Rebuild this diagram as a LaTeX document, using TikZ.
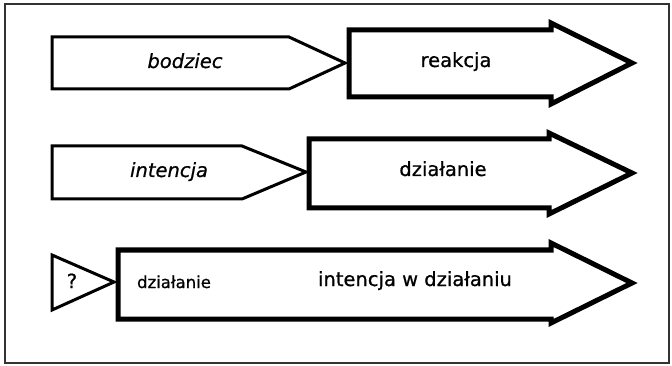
\documentclass[tikz,border=0pt]{standalone}
\usepackage{fontspec}
\setmainfont[FakeBold=0.8]{DejaVu Sans}
\begin{document}
\begin{tikzpicture}[x=1pt,y=-1pt,
  frame/.style={line width=1.3pt, draw=black!80},
  inbox/.style={line width=3pt, line join=miter},
  outarrow/.style={line width=5pt, line join=miter},
  lab/.style={anchor=base, inner sep=0pt, font=\fontsize{19.5}{21}\selectfont},
  ilab/.style={lab, font=\fontsize{19.5}{21}\selectfont\itshape},
  slab/.style={anchor=base, inner sep=0pt, font=\fontsize{16.5}{18}\selectfont}]
\useasboundingbox (0,0) rectangle (672,366);
\draw[frame] (5,4) rectangle (669,363);
% row 1
\draw[inbox] (52,37) -- (289,37) -- (345,63) -- (289,89) -- (52,89) -- cycle;
\draw[outarrow] (349,30) -- (551,30) -- (551,23) -- (632,63) -- (551,104) -- (551,97) -- (349,97) -- cycle;
\node[ilab] (bodziec) at (185,68) {bodziec};
\node[lab] (reakcja) at (456,67) {reakcja};
% row 2
\draw[inbox] (52,146) -- (242,146) -- (306,172) -- (242,199) -- (52,199) -- cycle;
\draw[outarrow] (309,139) -- (549,139) -- (549,133) -- (632,173) -- (549,214) -- (549,208) -- (309,208) -- cycle;
\node[ilab] (intencja) at (169,177) {intencja};
\node[lab] (dzialanie) at (443,176) {działanie};
% row 3
\draw[inbox] (52,255) -- (114,282) -- (52,310) -- cycle;
\draw[outarrow] (118,250) -- (551,250) -- (551,243) -- (632,283) -- (551,323) -- (551,319) -- (118,319) -- cycle;
\node[lab] (pyt) at (72,288) {?};
\node[slab] (dzialanie3) at (174,288) {działanie};
\node[lab] (iwd) at (415,286) {intencja w działaniu};
\end{tikzpicture}
\end{document}
